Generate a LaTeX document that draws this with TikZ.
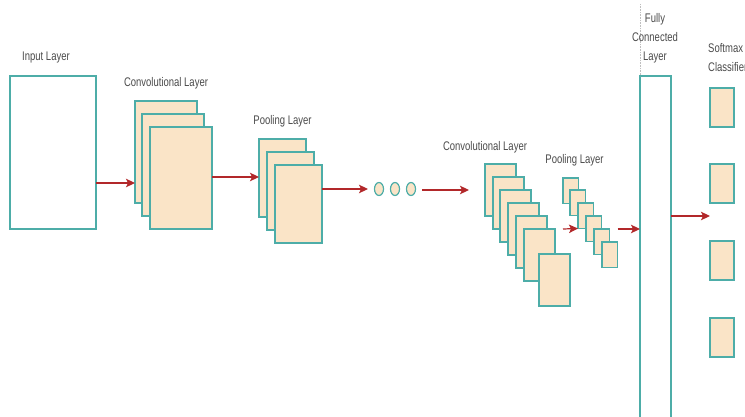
\documentclass[tikz,border=0pt]{standalone}
\usepackage{fontspec}
\setmainfont{Liberation Sans}[FakeStretch=0.76]
\usetikzlibrary{arrows.meta,shapes.geometric}

\definecolor{edgeteal}{HTML}{4DADA8}
\definecolor{mapfill}{HTML}{FAE4C7}
\definecolor{arrred}{HTML}{B2282A}
\definecolor{txtgray}{HTML}{4A4A4A}

\begin{document}
\begin{tikzpicture}[
	x=1pt, y=-1pt,
	font=\fontsize{12.5}{19}\selectfont,
	box/.style={draw=edgeteal, line width=1.2pt, fill=white, inner sep=0pt, outer sep=0pt, anchor=north west},
	fmap/.style={box, fill=mapfill},
	dot/.style={draw=edgeteal, line width=1.2pt, fill=mapfill, ellipse, inner sep=0pt, minimum width=9, minimum height=13},
	lbl/.style={text=txtgray, inner sep=0pt},
	arr/.style={draw=arrred, line width=1.2pt, -{Stealth[length=9pt,width=8.5pt,inset=2pt]}},
	guide/.style={draw=black!25, densely dotted, line width=0.6pt},
	]
\useasboundingbox (0,0) rectangle (745,417);

% input
\node [box, minimum width=86, minimum height=153] (inl) at (10,76) {};
\node [lbl, anchor=base] (inlab) at (46,61) {Input Layer};

% first convolution and pooling
\foreach \i/\x/\y in {1/135/101, 2/142/114, 3/150/127}
	\node [fmap, minimum width=62, minimum height=102] (cva\i) at (\x,\y) {};
\node [lbl, anchor=base] (cvalab) at (166,87) {Convolutional Layer};

\foreach \i/\x/\y in {1/259/139, 2/267/152, 3/275/165}
	\node [fmap, minimum width=47, minimum height=78] (poa\i) at (\x,\y) {};
\node [lbl, anchor=base] (poalab) at (282.5,125) {Pooling Layer};

% dots
\foreach \i/\x in {1/379, 2/395, 3/411}
	\node [dot] (dot\i) at (\x,189) {};

% second convolution and pooling
\foreach \i/\x/\y in {1/485/164, 2/493/177, 3/500/190, 4/508/203, 5/516/216, 6/524/229, 7/539/254}
	\node [fmap, minimum width=31, minimum height=52] (cvb\i) at (\x,\y) {};
\node [lbl, anchor=base] (cvblab) at (485,150.5) {Convolutional Layer};

\foreach \i/\x/\y in {1/563/178, 2/570/190, 3/578/203, 4/586/216, 5/594/229, 6/602/242}
	\node [fmap, minimum width=15.5, minimum height=25.5] (pob\i) at (\x,\y) {};
\node [lbl, anchor=base] (poblab) at (574.5,164) {Pooling Layer};

% fully connected
\node [box, minimum width=31, minimum height=360] (fc) at (640,76) {};
\coordinate (fctop) at (640,4);
\draw [guide] (fctop) -- (fc.north west);
\node [lbl, anchor=north, align=center] (fclab) at (655,13) {Fully\\Connected\\Layer};

% softmax
\foreach \i/\y in {1/88, 2/164, 3/241, 4/318}
	\node [fmap, minimum width=24, minimum height=39] (sm\i) at (710,\y) {};
\node [lbl, anchor=north west, align=left] (smlab) at (708,43) {Softmax\\Classifier};

% connectors
\coordinate (a1) at (0,183);
\coordinate (a2) at (0,177);
\coordinate (a3) at (368,189);
\coordinate (a4s) at (422,190);
\coordinate (a4) at (469,190);
\coordinate (a5) at (563,229);
\coordinate (a6) at (0,229);
\coordinate (a7) at (710,216);
\draw [arr] (inl.east |- a1) -- (cva1.west |- a1);
\draw [arr] (cva3.east |- a2) -- (poa1.west |- a2);
\draw [arr] (poa3.east |- a3) -- (a3);
\draw [arr] (a4s) -- (a4);
\draw [arr] (a5) -- (pob3.south west);
\draw [arr] (pob6.east |- a6) -- (fc.west |- a6);
\draw [arr] (fc.east |- a7) -- (a7);
\end{tikzpicture}
\end{document}
